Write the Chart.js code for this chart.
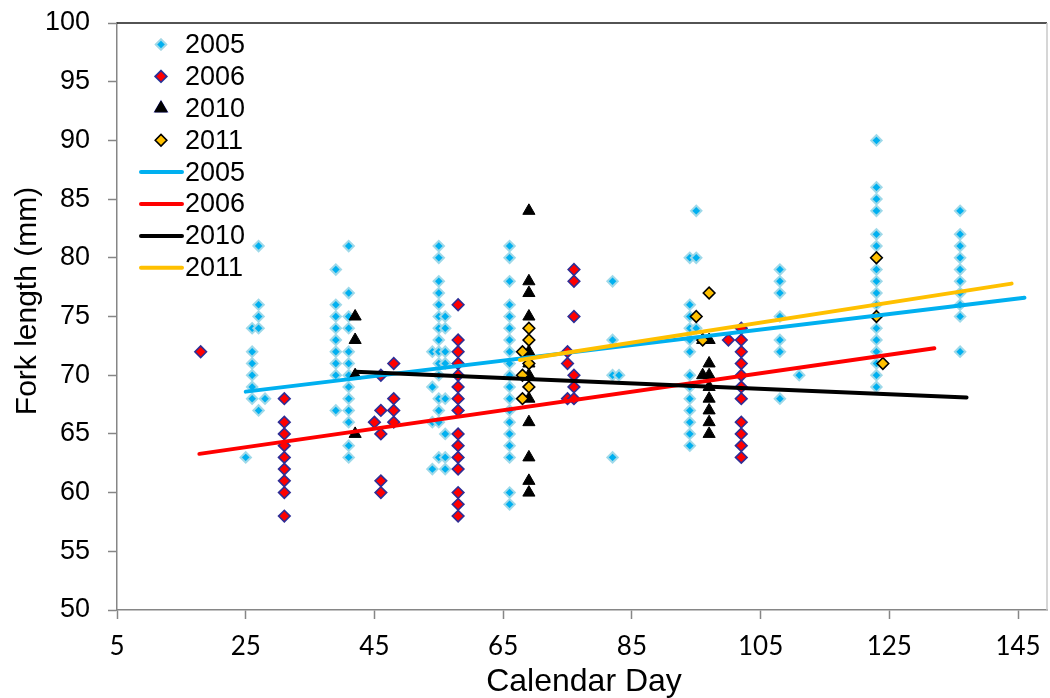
<!DOCTYPE html>
<html>
<head>
<meta charset="utf-8">
<script src="https://cdn.jsdelivr.net/npm/chart.js@4.4.1/dist/chart.umd.min.js"></script>
<style>
  html, body { margin: 0; padding: 0; background: #fff; }
  #wrap { position: relative; width: 1050px; height: 698px; }
</style>
</head>
<body>
<div id="wrap"><canvas id="chart"></canvas></div>
<script>
// Axis ticks
const xTicks = [5, 25, 45, 65, 85, 105, 125, 145];
const yTicks = [50, 55, 60, 65, 70, 75, 80, 85, 90, 95, 100];

// Fork lengths (mm) per calendar day, one entry per column of points
const fish2005 = [
    [25, [63]],
    [26, [74, 72, 71, 70, 69, 68]],
    [27, [81, 76, 75, 74, 67]],
    [28, [68]],
    [39, [79, 76, 75, 74, 73, 72, 71, 70, 67]],
    [41, [81, 77, 75, 74, 72, 71, 70, 69, 68, 67, 66, 64, 63]],
    [54, [72, 69, 66, 62]],
    [55, [81, 80, 78, 77, 76, 75, 74, 73, 72, 71, 70, 68, 67, 66, 63]],
    [56, [75, 74, 72, 71, 68, 65, 63, 62]],
    [66, [81, 80, 78, 76, 75, 74, 73, 72, 71, 70, 69, 68, 67, 66, 65, 64, 63, 60, 59]],
    [82, [78, 73, 70, 63]],
    [83, [70]],
    [94, [80, 76, 75, 74, 73, 72, 70, 69, 68, 67, 66, 65, 64]],
    [95, [84, 80, 74]],
    [108, [79, 78, 77, 75, 73, 72, 68]],
    [111, [70]],
    [123, [90, 86, 85, 84, 82, 81, 80, 79, 78, 77, 76, 75, 74, 73, 72, 71, 70, 69]],
    [136, [84, 82, 81, 80, 79, 78, 77, 76, 75, 72]]
];
const fish2006 = [
    [18, [72]],
    [31, [68, 66, 65, 64, 63, 62, 61, 60, 58]],
    [45, [66]],
    [46, [70, 67, 65, 61, 60]],
    [48, [71, 68, 67, 66]],
    [58, [76, 73, 72, 71, 70, 69, 68, 67, 65, 64, 63, 62, 60, 59, 58]],
    [75, [72, 71, 68]],
    [76, [79, 78, 75, 70, 69, 68]],
    [100, [73]],
    [102, [74, 73, 72, 71, 70, 69, 68, 66, 65, 64, 63]]
];
const fish2010 = [
    [42, [75, 73, 70, 65]],
    [69, [84, 78, 77, 75, 72, 71, 70, 68, 66, 63, 61, 60]],
    [96, [73, 70]],
    [97, [73, 71, 70, 69, 68, 67, 66, 65]]
];
const fish2011 = [
    [68, [72, 70, 68]],
    [69, [74, 73, 71, 69]],
    [95, [75]],
    [96, [73]],
    [97, [77]],
    [123, [80, 75]],
    [124, [71]]
];

// Linear trend lines, start and end points [day, length]
const trend2005 = [[25, 68.6], [146, 76.6]];
const trend2006 = [[17.8, 63.3], [132, 72.3]];
const trend2010 = [[42, 70.3], [137, 68.1]];
const trend2011 = [[67.6, 71.3], [144, 77.8]];

const ARIAL = '"Liberation Sans", Arial, sans-serif';

function toPoints(columns) {
    const pts = [];
    columns.forEach(([day, lengths]) => {
        lengths.forEach(len => pts.push({ x: day, y: len }));
    });
    return pts;
}

function toLine(pairs) {
    return pairs.map(([x, y]) => ({ x: x, y: y }));
}

const markers = {
    '2005': { pointStyle: 'rectRot', radius: 5.2, bg: '#00B0F0', border: '#9FD9E9', bw: 2 },
    '2006': { pointStyle: 'rectRot', radius: 5.8, bg: '#FF0000', border: '#2E2E96', bw: 1.6 },
    '2010': { pointStyle: 'triangle', radius: 7, bg: '#000000', border: '#000000', bw: 1 },
    '2011': { pointStyle: 'rectRot', radius: 5.8, bg: '#FFC000', border: '#000000', bw: 1.6 }
};
const lineColors = { '2005': '#00B0F0', '2006': '#FF0000', '2010': '#000000', '2011': '#FFC000' };

function scatterSet(label, columns, order) {
    const m = markers[label];
    return {
        label: label,
        data: toPoints(columns),
        pointStyle: m.pointStyle,
        pointRadius: m.radius,
        backgroundColor: m.bg,
        borderColor: m.border,
        borderWidth: m.bw,
        showLine: false,
        order: order
    };
}

function trendSet(label, pairs, order) {
    return {
        label: label,
        data: toLine(pairs),
        showLine: true,
        borderColor: lineColors[label],
        borderWidth: 4,
        borderCapStyle: 'round',
        pointRadius: 0,
        fill: false,
        order: order
    };
}

// Frame, axis titles and the in-plot legend
const extrasPlugin = {
    id: 'extras',
    afterDraw(chart) {
        const ctx = chart.ctx;
        const a = chart.chartArea;
        ctx.save();

        // top and right border of the plot area
        ctx.lineWidth = 1.5;
        ctx.strokeStyle = '#1a1a1a';
        ctx.beginPath();
        ctx.moveTo(a.left, a.top);
        ctx.lineTo(a.right, a.top);
        ctx.stroke();
        ctx.strokeStyle = '#C8C8C8';
        ctx.beginPath();
        ctx.moveTo(a.right, a.top);
        ctx.lineTo(a.right, a.bottom);
        ctx.stroke();

        // axis titles
        ctx.fillStyle = '#000';
        ctx.font = '32px ' + ARIAL;
        ctx.textAlign = 'center';
        ctx.textBaseline = 'alphabetic';
        ctx.fillText('Calendar Day', 584, 691);
        ctx.font = '30px ' + ARIAL;
        ctx.save();
        ctx.translate(28, 301);
        ctx.rotate(-Math.PI / 2);
        ctx.textBaseline = 'middle';
        ctx.fillText('Fork length (mm)', 0, 0);
        ctx.restore();

        // legend
        const rowH = 31.9;
        let y = 44.5;
        ctx.font = '27px ' + ARIAL;
        ctx.textAlign = 'left';
        ctx.textBaseline = 'middle';
        ['2005', '2006', '2010', '2011'].forEach(lbl => {
            const m = markers[lbl];
            Chart.helpers.drawPoint(ctx, {
                pointStyle: m.pointStyle,
                radius: m.radius,
                borderWidth: m.bw,
                rotation: 0
            }, 161, y);
            ctx.fillStyle = m.bg;
            ctx.strokeStyle = m.border;
            ctx.lineWidth = m.bw;
            ctx.fill();
            ctx.stroke();
            ctx.fillStyle = '#000';
            ctx.fillText(lbl, 185, y + 1);
            y += rowH;
        });
        ['2005', '2006', '2010', '2011'].forEach(lbl => {
            ctx.strokeStyle = lineColors[lbl];
            ctx.lineWidth = 4;
            ctx.lineCap = 'round';
            ctx.beginPath();
            ctx.moveTo(141, y);
            ctx.lineTo(182, y);
            ctx.stroke();
            ctx.fillStyle = '#000';
            ctx.fillText(lbl, 185, y + 1);
            y += rowH;
        });
        ctx.restore();
    }
};

const ctx = document.getElementById('chart').getContext('2d');
new Chart(ctx, {
    type: 'scatter',
    data: {
        datasets: [
            scatterSet('2005', fish2005, 8),
            scatterSet('2006', fish2006, 7),
            scatterSet('2010', fish2010, 6),
            scatterSet('2011', fish2011, 5),
            trendSet('2005', trend2005, 4),
            trendSet('2006', trend2006, 3),
            trendSet('2010', trend2010, 2),
            trendSet('2011', trend2011, 1)
        ]
    },
    options: {
        responsive: true,
        maintainAspectRatio: false,
        animation: false,
        events: [],
        layout: {
            autoPadding: false,
            padding: { left: 0, top: 23, right: 3, bottom: 0 }
        },
        plugins: {
            legend: { display: false },
            tooltip: { enabled: false }
        },
        scales: {
            x: {
                type: 'linear',
                position: 'bottom',
                min: 5,
                max: 149.5,
                afterBuildTicks: function(scale) {
                    scale.ticks = xTicks.map(v => ({ value: v }));
                },
                afterFit: function(scale) {
                    scale.height = 88;
                    scale.paddingLeft = 0;
                    scale.paddingRight = 0;
                },
                grid: {
                    drawOnChartArea: false,
                    drawTicks: true,
                    tickLength: 9,
                    tickColor: '#868686',
                    tickWidth: 1.5
                },
                border: { color: '#868686', width: 1.5 },
                ticks: {
                    color: '#000',
                    padding: 0,
                    maxRotation: 0,
                    font: { family: 'Lato, "Open Sans", sans-serif', size: 26, lineHeight: 2.15 }
                }
            },
            y: {
                type: 'linear',
                min: 50,
                max: 100,
                afterBuildTicks: function(scale) {
                    scale.ticks = yTicks.map(v => ({ value: v }));
                },
                afterFit: function(scale) {
                    scale.width = 117;
                    scale.paddingTop = 0;
                    scale.paddingBottom = 0;
                },
                grid: {
                    drawOnChartArea: false,
                    drawTicks: true,
                    tickLength: 9,
                    tickColor: '#868686',
                    tickWidth: 1.5
                },
                border: { color: '#868686', width: 1.5 },
                ticks: {
                    color: '#000',
                    padding: 18,
                    font: { family: ARIAL, size: 27 }
                }
            }
        }
    },
    plugins: [extrasPlugin]
});
</script>
</body>
</html>
